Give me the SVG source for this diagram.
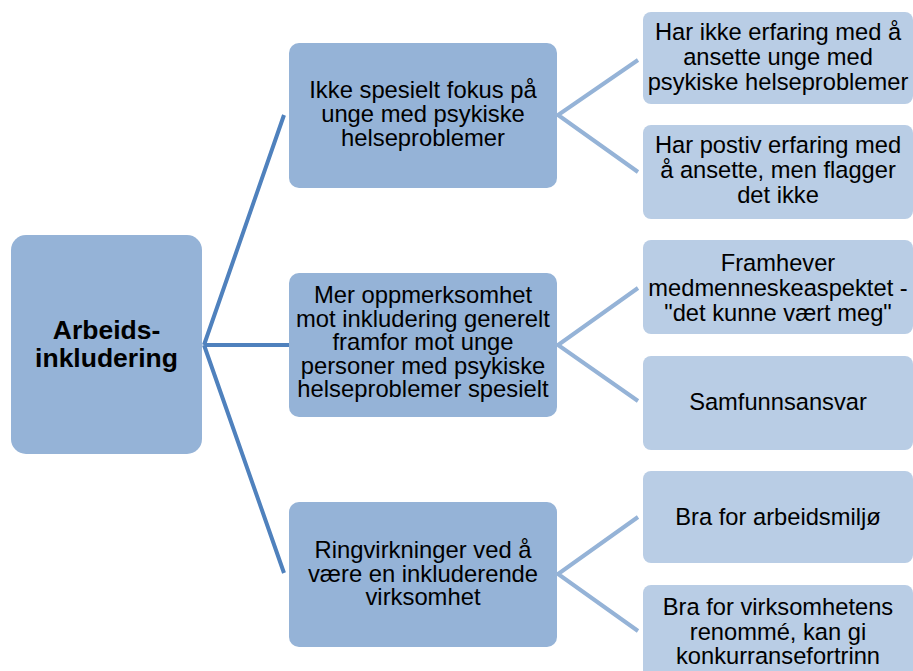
<svg xmlns="http://www.w3.org/2000/svg" width="913" height="671" viewBox="0 0 913 671">
<style>
.root{fill:#95b3d7}
.mid{fill:#95b3d7}
.leaf{fill:#b9cde5}
text{font-family:"Liberation Sans",Arial,sans-serif;fill:#000;text-anchor:middle}
.t1{font-size:26.5px;font-weight:bold}
.t2{font-size:23.8px}
.t3{font-size:23.7px}
.c1{stroke:#4f81bd;stroke-width:4;fill:none}
.c2{stroke:#95b3d7;stroke-width:4;fill:none}
</style>
<rect width="913" height="671" fill="#fff"/>
<g id="connectors">
<path class="c1" d="M204,345 L284,115 M204,345 L289,345 M204,345 L284,573"/>
<path class="c2" d="M638,60 L558,115 L638,172"/>
<path class="c2" d="M638,288 L558,345 L638,401"/>
<path class="c2" d="M638,517 L558,574 L638,631"/>
</g>
<g id="root">
<rect class="root" x="11" y="235" width="191" height="219" rx="15"/>
<text class="t1" x="106.5" y="339">Arbeids-</text>
<text class="t1" x="106.5" y="367">inkludering</text>
</g>
<g id="mid1">
<rect class="mid" x="289" y="43" width="268" height="145" rx="10"/>
<text class="t2" x="423" y="98">Ikke spesielt fokus på</text>
<text class="t2" x="423" y="122">unge med psykiske</text>
<text class="t2" x="423" y="146">helseproblemer</text>
</g>
<g id="mid2">
<rect class="mid" x="289" y="273" width="268" height="144" rx="10"/>
<text class="t2" x="423" y="303">Mer oppmerksomhet</text>
<text class="t2" x="423" y="326.5">mot inkludering generelt</text>
<text class="t2" x="423" y="350">framfor mot unge</text>
<text class="t2" x="423" y="373.5">personer med psykiske</text>
<text class="t2" x="423" y="397">helseproblemer spesielt</text>
</g>
<g id="mid3">
<rect class="mid" x="289" y="502" width="268" height="145" rx="10"/>
<text class="t2" x="423" y="558">Ringvirkninger ved å</text>
<text class="t2" x="423" y="581.5">være en inkluderende</text>
<text class="t2" x="423" y="605">virksomhet</text>
</g>
<g id="leafA">
<rect class="leaf" x="643" y="12" width="270" height="92" rx="8"/>
<text class="t3" x="778" y="40">Har ikke erfaring med å</text>
<text class="t3" x="778" y="65">ansette unge med</text>
<text class="t3" x="778" y="90">psykiske helseproblemer</text>
</g>
<g id="leafB">
<rect class="leaf" x="643" y="125" width="270" height="94" rx="8"/>
<text class="t3" x="778" y="153">Har postiv erfaring med</text>
<text class="t3" x="778" y="178">å ansette, men flagger</text>
<text class="t3" x="778" y="203">det ikke</text>
</g>
<g id="leafC">
<rect class="leaf" x="643" y="240" width="270" height="94" rx="8"/>
<text class="t3" x="778" y="270.5">Framhever</text>
<text class="t3" x="778" y="295.5">medmenneskeaspektet -</text>
<text class="t3" x="778" y="320.5">"det kunne vært meg"</text>
</g>
<g id="leafD">
<rect class="leaf" x="643" y="356" width="270" height="94" rx="8"/>
<text class="t3" x="778" y="410">Samfunnsansvar</text>
</g>
<g id="leafE">
<rect class="leaf" x="643" y="471" width="270" height="92" rx="8"/>
<text class="t3" x="778" y="525">Bra for arbeidsmiljø</text>
</g>
<g id="leafF">
<rect class="leaf" x="643" y="585" width="270" height="94" rx="8"/>
<text class="t3" x="778" y="615">Bra for virksomhetens</text>
<text class="t3" x="778" y="640">renommé, kan gi</text>
<text class="t3" x="778" y="664">konkurransefortrinn</text>
</g>
</svg>
